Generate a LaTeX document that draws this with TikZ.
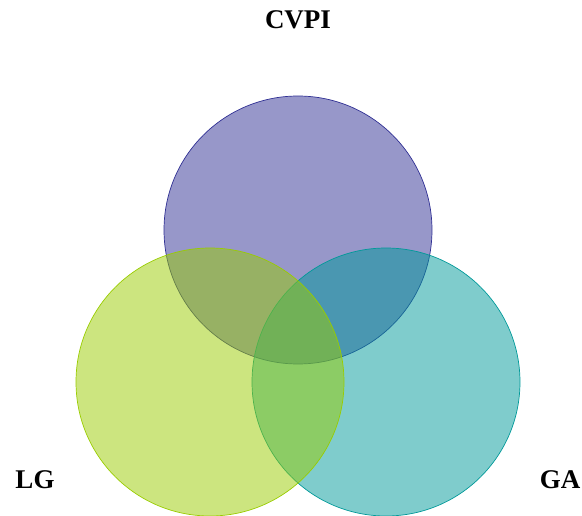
\documentclass[tikz,border=0pt]{standalone}
\usepackage{fontspec}
\setmainfont{Liberation Serif}
\definecolor{cvpicol}{RGB}{47,47,147}
\definecolor{lgcol}{RGB}{153,204,0}
\definecolor{gacol}{RGB}{0,153,153}
\tikzset{
  set/.style={circle,minimum size=268pt,inner sep=0pt,fill opacity=0.5,line width=0.7pt},
  setname/.style={font=\bfseries\fontsize{27}{27}\selectfont}
}
\begin{document}
\begin{tikzpicture}[x=1pt,y=-1pt]
\useasboundingbox (0,0) rectangle (582,516);
\node[set,draw=cvpicol,fill=cvpicol] (CVPI) at (298,230) {};
\node[set,draw=gacol,fill=gacol] (GA) at (386,382) {};
\node[set,draw=lgcol,fill=lgcol] (LG) at (210,382) {};
\node[setname] (cvpiname) at (298,20) {CVPI};
\node[setname] (lgname) at (35,480) {LG};
\node[setname] (ganame) at (560,480) {GA};
\end{tikzpicture}
\end{document}
